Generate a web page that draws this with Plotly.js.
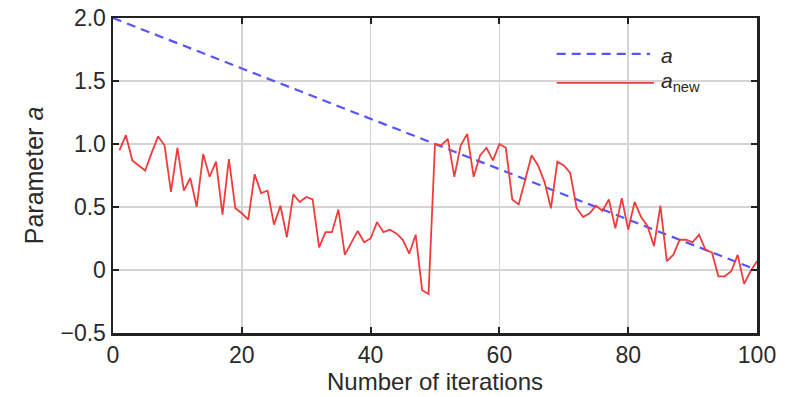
<!DOCTYPE html>
<html>
<head>
<meta charset="utf-8">
<script src="https://cdn.plot.ly/plotly-3.0.1.min.js"></script>
<style>html,body{margin:0;padding:0;background:#fff;}#chart{width:786px;height:397px;}</style>
</head>
<body>
<div id="chart"></div>
<script>
// Linear parameter a
const aIter = [0, 100];
const aValues = [2.0, 0.0];

// Updated parameter a_new, iterations 1..100
const newIter = [];
for (let i = 1; i <= 100; i++) newIter.push(i);
const newValues = [
  0.95, 1.07, 0.87, 0.83, 0.79, 0.93, 1.06, 0.99, 0.62, 0.97,
  0.63, 0.73, 0.50, 0.92, 0.74, 0.86, 0.44, 0.88, 0.49, 0.45,
  0.40, 0.76, 0.61, 0.63, 0.36, 0.51, 0.26, 0.60, 0.54, 0.58,
  0.56, 0.18, 0.30, 0.30, 0.48, 0.12, 0.21, 0.31, 0.22, 0.25,
  0.38, 0.30, 0.32, 0.29, 0.24, 0.13, 0.28, -0.16, -0.19, 1.00,
  0.99, 1.04, 0.74, 0.99, 1.08, 0.74, 0.91, 0.97, 0.87, 1.00,
  0.97, 0.56, 0.52, 0.71, 0.91, 0.83, 0.70, 0.49, 0.86, 0.83,
  0.77, 0.49, 0.42, 0.45, 0.51, 0.47, 0.56, 0.33, 0.57, 0.32,
  0.54, 0.42, 0.35, 0.19, 0.51, 0.07, 0.12, 0.24, 0.24, 0.22,
  0.28, 0.16, 0.14, -0.05, -0.05, -0.01, 0.12, -0.11, -0.01, 0.07
];

const xTicks = [0, 20, 40, 60, 80, 100];
const yTickVals = [-0.5, 0, 0.5, 1.0, 1.5, 2.0];
const yTickText = ['\u22120.5', '0', '0.5', '1.0', '1.5', '2.0'];

const blue = 'rgb(85,85,250)';
const red = 'rgb(240,60,60)';
const font = 'Liberation Sans, Arial, sans-serif';
const textColor = '#2a2a2a';

const traces = [
  {x: aIter, y: aValues, mode: 'lines', name: 'a', showlegend: false,
   line: {color: blue, width: 2.2, dash: '9px,6px'}},
  {x: newIter, y: newValues, mode: 'lines', name: 'a_new', showlegend: false,
   line: {color: red, width: 1.8}}
];

const axisCommon = {
  showline: true, linecolor: '#222', linewidth: 2.5, mirror: 'ticks',
  ticks: 'inside', ticklen: 6, tickwidth: 2, tickcolor: '#222',
  showgrid: true, gridcolor: '#d4d4d4', gridwidth: 1.5,
  zeroline: false, tickfont: {family: font, size: 23, color: textColor}
};

const layout = {
  width: 786, height: 397,
  margin: {l: 113, r: 29, t: 18, b: 64},
  paper_bgcolor: '#fff', plot_bgcolor: '#fff',
  xaxis: Object.assign({}, axisCommon, {
    range: [0, 100], tickvals: xTicks,
    title: {text: 'Number of iterations', font: {family: font, size: 24, color: textColor}, standoff: 2}
  }),
  yaxis: Object.assign({}, axisCommon, {
    range: [-0.5, 2.0], tickvals: yTickVals, ticktext: yTickText,
    title: {text: 'Parameter <i>a</i>', font: {family: font, size: 25, color: textColor}, standoff: 10}
  }),
  shapes: [
    {type: 'line', xref: 'paper', yref: 'paper', x0: 0.689, x1: 0.834, y0: 0.886, y1: 0.886,
     line: {color: blue, width: 2.2, dash: '9px,6px'}},
    {type: 'line', xref: 'paper', yref: 'paper', x0: 0.689, x1: 0.840, y0: 0.794, y1: 0.794,
     line: {color: red, width: 1.8}}
  ],
  annotations: [
    {xref: 'paper', yref: 'paper', x: 0.848, y: 0.881, xanchor: 'left', yanchor: 'middle', showarrow: false,
     text: '<i>a</i>', font: {family: font, size: 21, color: textColor}},
    {xref: 'paper', yref: 'paper', x: 0.848, y: 0.797, xanchor: 'left', yanchor: 'middle', showarrow: false,
     text: '<i>a</i><sub>new</sub>', font: {family: font, size: 21, color: textColor}}
  ],
  showlegend: false
};

Plotly.newPlot('chart', traces, layout, {displayModeBar: false, staticPlot: true});
</script>
</body>
</html>
